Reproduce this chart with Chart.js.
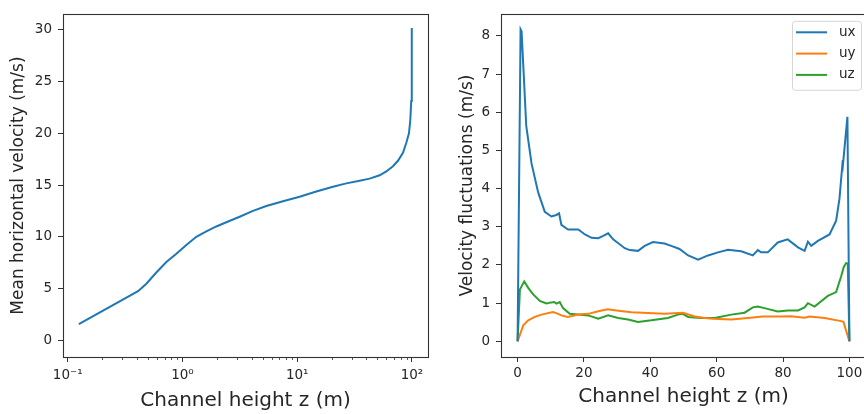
<!DOCTYPE html>
<html>
<head>
<meta charset="utf-8">
<script src="https://cdn.jsdelivr.net/npm/chart.js@4/dist/chart.umd.min.js"></script>
<style>
  html, body { margin:0; padding:0; background:#fff; overflow:hidden; width:864px; height:414px; }
  .box { position:absolute; top:0; height:414px; }
  #leftBox { left:0; width:432px; }
  #rightBox { left:432px; width:440px; }
</style>
</head>
<body>
<div class="box" id="leftBox"><canvas id="meanChart" width="432" height="414"></canvas></div>
<div class="box" id="rightBox"><canvas id="flucChart" width="440" height="414"></canvas></div>
<script>
// left panel: mean velocity vs height (log x)
const zMean = [0.125, 0.41, 0.4845, 0.592, 0.724, 0.885, 1.081, 1.321, 1.615, 1.974, 2.412, 3.151, 4.119, 5.381, 7.516, 10.5, 14.67, 20.5, 26.8, 35.0, 42.8, 52.3, 59.8, 68.3, 75.5, 83.5, 89.2, 94.2, 96.7, 98.6, 99.3, 100];
const uMean = [1.57, 4.75, 5.47, 6.56, 7.56, 8.37, 9.22, 10.0, 10.53, 11.0, 11.41, 11.94, 12.5, 12.97, 13.44, 13.87, 14.37, 14.84, 15.16, 15.41, 15.62, 15.94, 16.31, 16.81, 17.34, 18.12, 19.06, 20.0, 21.25, 23.12, 25.62, 30.16];
const meanYTicks = [0, 5, 10, 15, 20, 25, 30];
const meanXTicks = [0.1, 1, 10, 100];
const meanXLabels = ['10\u207B\u00B9', '10\u2070', '10\u00B9', '10\u00B2'];

// right panel: fluctuations
const zUx = [0, 0.9, 1.2, 1.8, 2.6, 4.2, 6.2, 8.2, 10.2, 11.7, 12.5, 13.2, 15.2, 18.3, 20.3, 22.3, 24.3, 25.8, 27.3, 28.8, 32.3, 33.8, 36.3, 38.3, 40.8, 44.3, 46.3, 48.8, 51.4, 54.4, 57.4, 60.4, 63.4, 67.4, 70.9, 72.4, 73.4, 75.4, 78.4, 81.4, 84.5, 86.5, 87.5, 88.5, 90.5, 94.0, 96.0, 97.0, 98.0, 98.1, 99.4, 100];
const ux  = [0, 8.17, 8.12, 7.08, 5.65, 4.66, 3.9, 3.39, 3.27, 3.31, 3.35, 3.05, 2.93, 2.93, 2.8, 2.71, 2.7, 2.76, 2.83, 2.67, 2.44, 2.39, 2.37, 2.5, 2.6, 2.56, 2.5, 2.42, 2.25, 2.14, 2.25, 2.33, 2.4, 2.36, 2.25, 2.39, 2.33, 2.33, 2.59, 2.67, 2.46, 2.37, 2.61, 2.5, 2.63, 2.8, 3.16, 3.73, 4.75, 4.67, 5.88, 0];
const zUy = [0, 1.7, 3.2, 5.2, 7.2, 10.6, 11.7, 13.2, 15.1, 18.3, 21.3, 24.3, 27.2, 29.8, 34.3, 39.3, 44.3, 49.8, 53.4, 56.4, 58.8, 64.4, 69.4, 73.8, 79.4, 82.4, 86.5, 88.0, 92.5, 97.5, 98.2, 100];
const uy  = [0, 0.42, 0.55, 0.64, 0.7, 0.77, 0.74, 0.68, 0.64, 0.7, 0.72, 0.79, 0.84, 0.81, 0.76, 0.74, 0.72, 0.75, 0.65, 0.61, 0.59, 0.57, 0.61, 0.65, 0.65, 0.66, 0.62, 0.65, 0.61, 0.53, 0.51, 0];
const zUz = [0, 0.7, 1.2, 2.0, 3.2, 4.7, 6.7, 8.7, 10.2, 11.0, 11.7, 12.7, 13.7, 15.7, 18.3, 21.3, 24.3, 27.3, 30.3, 33.3, 36.3, 40.3, 45.3, 48.3, 49.8, 51.4, 55.4, 59.4, 64.4, 68.4, 70.9, 72.4, 74.4, 78.4, 81.4, 84.5, 86.5, 87.5, 89.5, 93.5, 96.0, 97.5, 98.3, 99.0, 99.5, 100];
const uz  = [0, 1.36, 1.44, 1.57, 1.4, 1.23, 1.06, 0.99, 1.02, 1.03, 0.99, 1.03, 0.87, 0.72, 0.7, 0.68, 0.59, 0.68, 0.61, 0.57, 0.51, 0.55, 0.61, 0.7, 0.72, 0.64, 0.61, 0.61, 0.7, 0.75, 0.89, 0.91, 0.87, 0.78, 0.81, 0.81, 0.89, 1.0, 0.91, 1.19, 1.29, 1.7, 1.95, 2.05, 2.04, 0];
const flucNames = ['ux', 'uy', 'uz'];
const flucColors = ['#1f77b4', '#ff7f0e', '#2ca02c'];
const flucYTicks = [0, 1, 2, 3, 4, 5, 6, 7, 8];
const flucXTicks = [0, 20, 40, 60, 80, 100];

const TXT = '#262626';
const FONT = 'DejaVu Sans';
Chart.defaults.font.family = FONT;
Chart.defaults.color = TXT;

function pts(xs, ys){ return xs.map((x,i)=>({x:x, y:ys[i]})); }
function fixTicks(list){ return s => { s.ticks = list.filter(v=>v>=s.min && v<=s.max).map(v=>({value:v})); }; }

const frame = { id:'frame', afterDraw(c){
  const a = c.chartArea, g = c.ctx;
  g.save(); g.strokeStyle = '#333'; g.lineWidth = 1.1;
  g.strokeRect(Math.round(a.left)+0.5, Math.round(a.top)+0.5, Math.round(a.right-a.left), Math.round(a.bottom-a.top));
  g.restore();
}};

const minorTicks = { id:'minorTicks', afterDraw(c){
  const s = c.scales.x, g = c.ctx; if (s.type !== 'logarithmic') return;
  g.save(); g.strokeStyle = '#333'; g.lineWidth = 0.8;
  for (let e = -2; e <= 2; e++) for (let m = 2; m <= 9; m++) {
    const v = m * Math.pow(10, e); if (v < s.min || v > s.max) continue;
    const px = Math.round(s.getPixelForValue(v)) + 0.5;
    g.beginPath(); g.moveTo(px, s.top); g.lineTo(px, s.top + 3); g.stroke();
  }
  g.restore();
}};

const boxLegend = { id:'boxLegend', afterDraw(c){
  const a = c.chartArea, g = c.ctx, ds = c.data.datasets;
  const w = 69, h = 69, x0 = a.right - 5 - w, y0 = a.top + 6.7;
  g.save();
  g.beginPath(); g.roundRect(x0+0.5, y0+0.5, w, h, 3);
  g.fillStyle = 'rgba(255,255,255,0.8)'; g.fill();
  g.strokeStyle = '#d6d6d6'; g.lineWidth = 1; g.stroke();
  g.font = '13.5px "' + FONT + '"'; g.textBaseline = 'middle'; g.textAlign = 'left';
  ds.forEach((d, i) => {
    const y = y0 + 11.5 + i * 21.3;
    g.strokeStyle = d.borderColor; g.lineWidth = 2;
    g.beginPath(); g.moveTo(x0 + 4, y); g.lineTo(x0 + 35, y); g.stroke();
    g.fillStyle = TXT; g.fillText(d.label, x0 + 47, y);
  });
  g.restore();
}};

const tickGrid = { display:true, drawOnChartArea:false, drawTicks:true, tickLength:5, tickWidth:1, tickColor:'#333' };

new Chart(document.getElementById('meanChart'), {
  type:'line',
  data:{ datasets:[{ label:'mean', data: pts(zMean, uMean), borderColor:'#1f77b4', borderWidth:2, pointRadius:0, tension:0, fill:false }] },
  options:{
    responsive:false, animation:false,
    layout:{ padding:{ top:4, right:4, left:0, bottom:0 } },
    plugins:{ legend:{ display:false }, tooltip:{ enabled:false } },
    scales:{
      x:{ type:'logarithmic', min:0.091, max:138,
          afterBuildTicks: fixTicks(meanXTicks),
          afterFit: s => { s.height = 57; },
          grid: tickGrid, border:{ display:false },
          ticks:{ font:{ size:13.5 }, padding:5, maxRotation:0, autoSkip:false,
                  callback: v => { const i = meanXTicks.indexOf(v); return i >= 0 ? meanXLabels[i] : ''; } },
          title:{ display:true, text:'Channel height z (m)', font:{ size:20 }, padding:{ top:0, bottom:1.5 } } },
      y:{ type:'linear', min:-1.6, max:31.5,
          afterBuildTicks: fixTicks(meanYTicks),
          afterFit: s => { s.width = 63; },
          grid: tickGrid, border:{ display:false },
          ticks:{ font:{ size:13.5 }, padding:6 },
          title:{ display:true, text:'Mean horizontal velocity (m/s)', font:{ size:17 }, padding:{ top:8, bottom:0 } } }
    }
  },
  plugins:[frame, minorTicks]
});

new Chart(document.getElementById('flucChart'), {
  type:'line',
  data:{ datasets:[
    { label:flucNames[0], data: pts(zUx, ux), borderColor:flucColors[0], borderWidth:2, pointRadius:0, tension:0, fill:false },
    { label:flucNames[1], data: pts(zUy, uy), borderColor:flucColors[1], borderWidth:2, pointRadius:0, tension:0, fill:false },
    { label:flucNames[2], data: pts(zUz, uz), borderColor:flucColors[2], borderWidth:2, pointRadius:0, tension:0, fill:false }
  ] },
  options:{
    responsive:false, animation:false,
    layout:{ padding:{ top:4, right:6, left:0, bottom:0 } },
    plugins:{ legend:{ display:false }, tooltip:{ enabled:false } },
    scales:{
      x:{ type:'linear', min:-5, max:105,
          afterBuildTicks: fixTicks(flucXTicks),
          afterFit: s => { s.height = 57; },
          grid: tickGrid, border:{ display:false },
          ticks:{ font:{ size:13.5 }, padding:3, maxRotation:0, autoSkip:false },
          title:{ display:true, text:'Channel height z (m)', font:{ size:20 }, padding:{ top:0, bottom:5.3 } } },
      y:{ type:'linear', min:-0.41, max:8.57,
          afterBuildTicks: fixTicks(flucYTicks),
          afterFit: s => { s.width = 69; },
          grid: tickGrid, border:{ display:false },
          ticks:{ font:{ size:13.5 }, padding:6 },
          title:{ display:true, text:'Velocity fluctuations (m/s)', font:{ size:17 }, padding:{ top:25, bottom:0 } } }
    }
  },
  plugins:[frame, boxLegend]
});
</script>
</body>
</html>
